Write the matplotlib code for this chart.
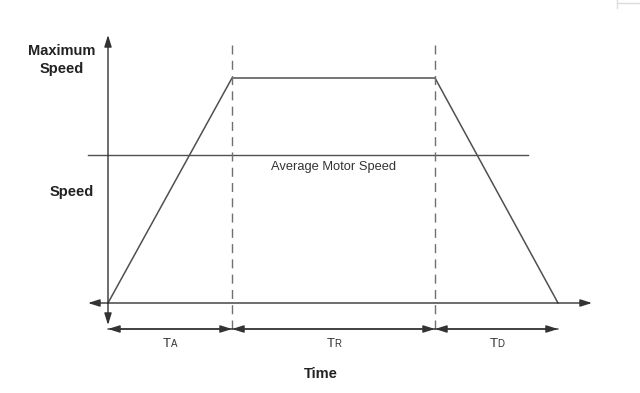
import matplotlib.pyplot as plt

# speed profile (time units, speed units)
times = [0, 124, 327, 450]
speeds = [0, 225, 225, 0]
avg_speed = 148
phase_labels = ['A', 'R', 'D']

plt.rcParams['font.family'] = ['Liberation Sans', 'DejaVu Sans']
fig = plt.figure(figsize=(6.4, 3.93), dpi=100)
ax = fig.add_axes([0, 0, 1, 1])
ax.set_xlim(-108, 532)
ax.set_ylim(-90, 303)
ax.axis('off')

lc = '#505050'
arrow = dict(arrowstyle='-|>,head_length=0.7,head_width=0.22', color='#333333',
             lw=1, shrinkA=0, shrinkB=0, mutation_scale=10)

# axes with arrows
ax.annotate('', xy=(0, 268), xytext=(0, 0), arrowprops=arrow)
ax.annotate('', xy=(0, -22), xytext=(0, 0), arrowprops=arrow)
ax.annotate('', xy=(484, 0), xytext=(0, 0), arrowprops=arrow)
ax.annotate('', xy=(-20, 0), xytext=(0, 0), arrowprops=arrow)

# trapezoid profile
ax.plot(times, speeds, color=lc, lw=1.1)

# average speed line
ax.plot([-20, 420], [avg_speed, avg_speed], color=lc, lw=1)
ax.text((times[1] + times[2]) / 2, avg_speed - 6, 'Average Motor Speed',
        ha='center', va='top', fontsize=9.3, color='#333333')

# dashed phase boundaries
for t in times[1:3]:
    ax.plot([t, t], [258, -27], color='#707070', lw=1, ls=(0, (6.5, 4.5)))

# dimension arrows
for i in range(3):
    a, b = times[i], times[i + 1]
    ax.annotate('', xy=(a, -26), xytext=(b, -26), arrowprops=arrow)
    ax.annotate('', xy=(b, -26), xytext=(a, -26), arrowprops=arrow)
    mid = (a + b) / 2
    ax.text(mid + 1, -44, 'T', ha='right', va='baseline', fontsize=9.5, color='#333333')
    ax.text(mid + 1, -44, phase_labels[i], ha='left', va='baseline', fontsize=7,
            color='#333333')

# labels
ax.text(-46, 243, 'Maximum\nSpeed', ha='center', va='center', fontsize=10.5,
        fontweight='bold', color='#222222', linespacing=1.35)
ax.text(-36, 111, 'Speed', ha='center', va='center', fontsize=10.5,
        fontweight='bold', color='#222222')
ax.text(213, -71, 'Time', ha='center', va='center', fontsize=10.5,
        fontweight='bold', color='#222222')

# faint corner artifact at top right
ax.plot([509, 532], [300, 300], color='#dddddd', lw=1)
ax.plot([509, 509], [303, 295], color='#dddddd', lw=1)

fig.savefig('out.png', dpi=100)
